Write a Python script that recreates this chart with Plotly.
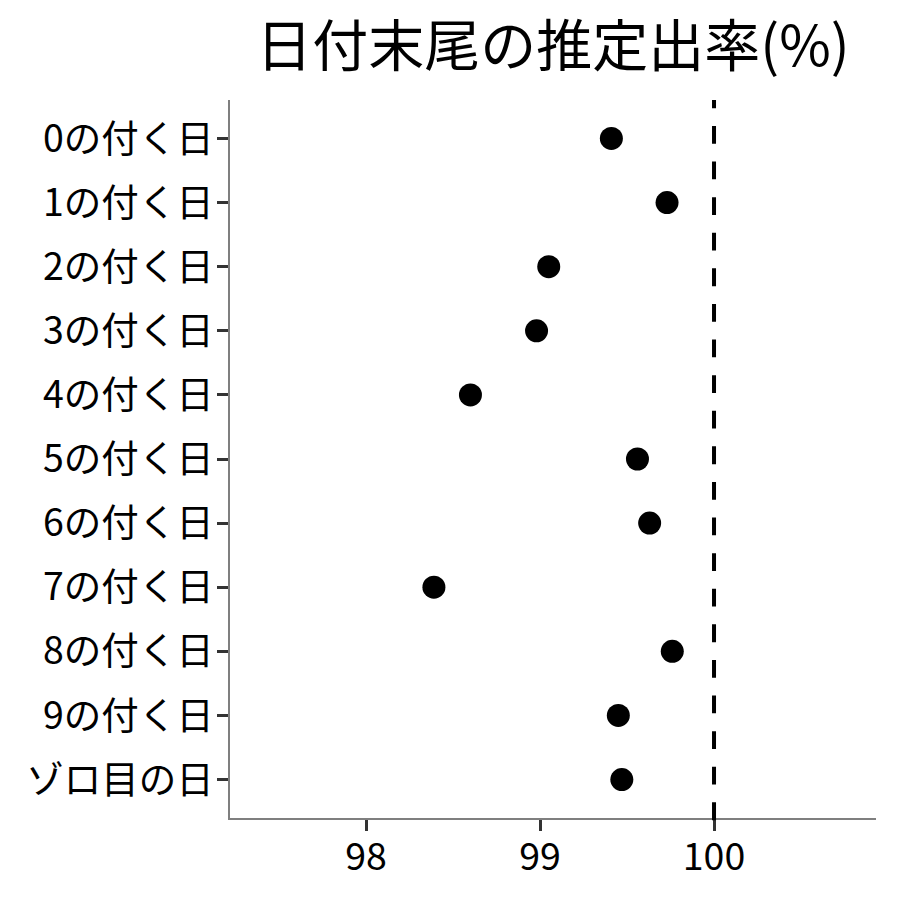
import plotly.graph_objects as go

categories = ["0の付く日", "1の付く日", "2の付く日", "3の付く日", "4の付く日",
              "5の付く日", "6の付く日", "7の付く日", "8の付く日", "9の付く日", "ゾロ目の日"]
rates = [99.41, 99.73, 99.05, 98.98, 98.60, 99.56, 99.63, 98.39, 99.76, 99.45, 99.47]
x_ticks = [98, 99, 100]
reference_value = 100

FONT = "Noto Sans CJK JP"

fig = go.Figure()
fig.add_trace(go.Scatter(
    x=rates, y=categories, mode="markers",
    marker=dict(size=23, color="black"),
    showlegend=False, hoverinfo="x+y",
))

fig.add_shape(type="line", xref="x", yref="paper",
              x0=reference_value, x1=reference_value, y0=-0.003, y1=1,
              line=dict(color="black", width=4, dash="17.8px,17.8px"))

fig.update_layout(
    width=892, height=892,
    margin=dict(l=222, r=24, t=92, b=82),
    paper_bgcolor="white", plot_bgcolor="white",
    font=dict(family=FONT, color="black"),
    title=dict(text="日付末尾の推定出率(%)", x=0.5, xref="paper",
               xanchor="center", y=1 - 38 / 892, yanchor="middle",
               font=dict(size=56, family=FONT, color="black")),
)

fig.update_xaxes(
    range=[97.218, 100.931], tickvals=x_ticks, ticktext=[str(v) for v in x_ticks],
    showgrid=False, zeroline=False,
    showline=True, linecolor="#7f7f7f", linewidth=1.5,
    ticks="outside", ticklen=11, tickwidth=3, tickcolor="#333333",
    ticklabelstandoff=-6,
    tickfont=dict(size=37.5, family=FONT, color="black"),
)
fig.update_yaxes(
    type="category", categoryorder="array", categoryarray=categories,
    range=[len(categories) - 0.4, -0.6],
    showgrid=False, zeroline=False,
    showline=True, linecolor="#7f7f7f", linewidth=1.5,
    ticks="outside", ticklen=11, tickwidth=3, tickcolor="#333333",
    ticklabelstandoff=-4,
    tickfont=dict(size=37.5, family=FONT, color="black"),
)

fig.write_html("out.html")
